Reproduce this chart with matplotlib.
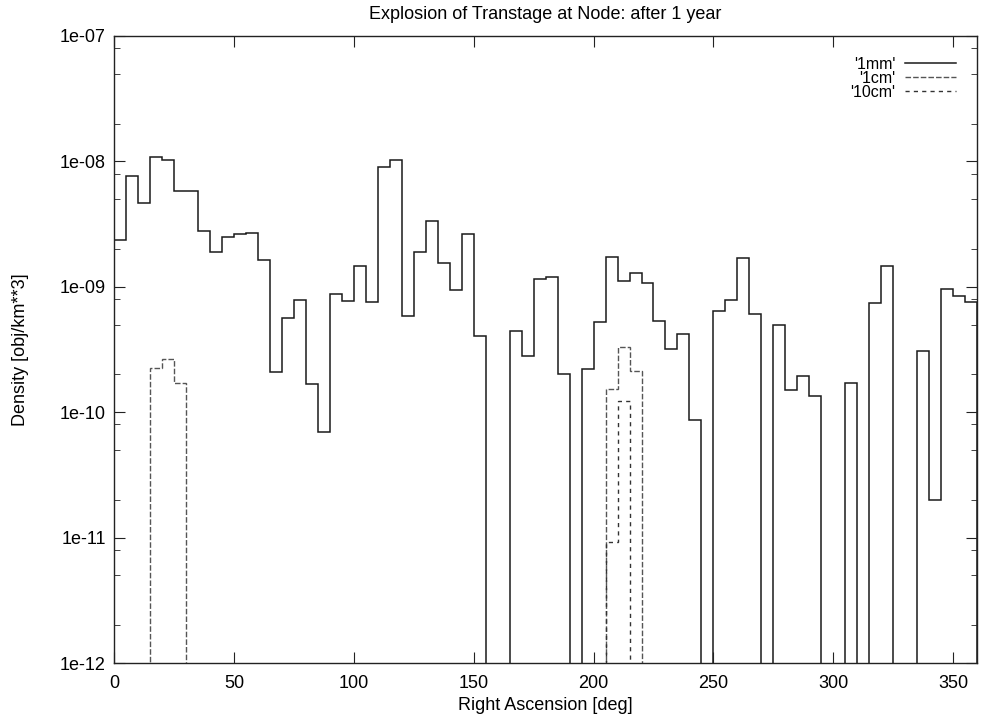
import numpy as np
import matplotlib
matplotlib.use("Agg")
import matplotlib.pyplot as plt
from matplotlib.ticker import LogLocator, FixedLocator, FuncFormatter, NullFormatter

plt.rcParams['font.family'] = ['Liberation Sans', 'DejaVu Sans']

# 5 deg bins in right ascension
edges = np.arange(0, 365, 5)

# 1mm density per bin (0 = nothing in that bin)
dens_1mm = [2.36e-9, 7.66e-9, 4.7e-9, 1.09e-8, 1.02e-8, 5.85e-9, 5.85e-9, 2.8e-9,
            1.89e-9, 2.5e-9, 2.64e-9, 2.69e-9, 1.64e-9, 2.1e-10, 5.6e-10, 7.8e-10,
            1.69e-10, 7.0e-11, 8.7e-10, 7.75e-10, 1.46e-9, 7.55e-10, 9.1e-9, 1.02e-8,
            5.8e-10, 1.9e-9, 3.35e-9, 1.54e-9, 9.4e-10, 2.62e-9, 4.04e-10, 0,
            0, 4.46e-10, 2.81e-10, 1.15e-9, 1.2e-9, 2.0e-10, 0, 2.2e-10,
            5.2e-10, 1.74e-9, 1.12e-9, 1.3e-9, 1.08e-9, 5.36e-10, 3.22e-10, 4.2e-10,
            8.6e-11, 0, 6.44e-10, 7.9e-10, 1.69e-9, 6.1e-10, 0, 5.0e-10,
            1.49e-10, 1.96e-10, 1.34e-10, 0, 0, 1.72e-10, 0, 7.36e-10,
            1.47e-9, 0, 0, 3.07e-10, 2.0e-11, 9.6e-10, 8.4e-10, 7.6e-10]

# bigger pieces only show up in a few bins (left edge of bin)
bins_1cm = [15, 20, 25, 205, 210, 215]
vals_1cm = [2.25e-10, 2.65e-10, 1.7e-10, 1.53e-10, 3.3e-10, 2.14e-10]
bins_10cm = [205, 210]
vals_10cm = [9.2e-12, 1.22e-10]

x_ticks = [0, 50, 100, 150, 200, 250, 300, 350]
y_ticks = [1e-12, 1e-11, 1e-10, 1e-9, 1e-8, 1e-7]

def fill_bins(starts, vals):
    out = np.zeros(len(edges) - 1)
    out[np.array(starts) // 5] = vals
    return out

dens_1cm = fill_bins(bins_1cm, vals_1cm)
dens_10cm = fill_bins(bins_10cm, vals_10cm)

fig = plt.figure(figsize=(9.81, 7.22), dpi=100)
ax = fig.add_axes([114.3/981, 59/722, 862.7/981, 627/722])
ax.set_yscale('log', nonpositive='clip')

ax.stairs(dens_1mm, edges, color='#1a1a1a', lw=1.1, label="'1mm'")
ax.stairs(dens_1cm, edges, color='#555555', lw=1.0, linestyle=(0, (4, 1.5)), label="'1cm'")
ax.stairs(dens_10cm, edges, color='#333333', lw=1.0, linestyle=(0, (3, 3)), label="'10cm'")

ax.set_xlim(0, 360)
ax.set_ylim(1e-12, 1e-7)

ax.xaxis.set_major_locator(FixedLocator(x_ticks))
ax.yaxis.set_major_locator(FixedLocator(y_ticks))
ax.yaxis.set_minor_locator(LogLocator(base=10, subs=[2, 5, 8], numticks=10))
ax.yaxis.set_major_formatter(FuncFormatter(lambda v, p: f"{v:.0e}"))
ax.yaxis.set_minor_formatter(NullFormatter())

ax.tick_params(which='both', direction='in', top=True, right=True, labelsize=13, color='#222222')
ax.tick_params(which='major', length=8)
ax.tick_params(which='minor', length=4)
ax.tick_params(axis='x', pad=9)
ax.tick_params(axis='y', pad=6)
for s in ax.spines.values():
    s.set_linewidth(1.0)
    s.set_color('#222222')

ax.set_title("Explosion of Transtage at Node: after 1 year", fontsize=13, pad=12)
ax.set_xlabel("Right Ascension [deg]", fontsize=13, labelpad=3)
ax.set_ylabel("Density [obj/km**3]", fontsize=13, labelpad=22)

ax.legend(loc='upper right', bbox_to_anchor=(0.985, 0.98), frameon=False,
          markerfirst=False, fontsize=11.5, handlelength=3.2, handletextpad=0.6,
          labelspacing=-0.05, borderpad=0)

fig.savefig("out.png", dpi=100)
